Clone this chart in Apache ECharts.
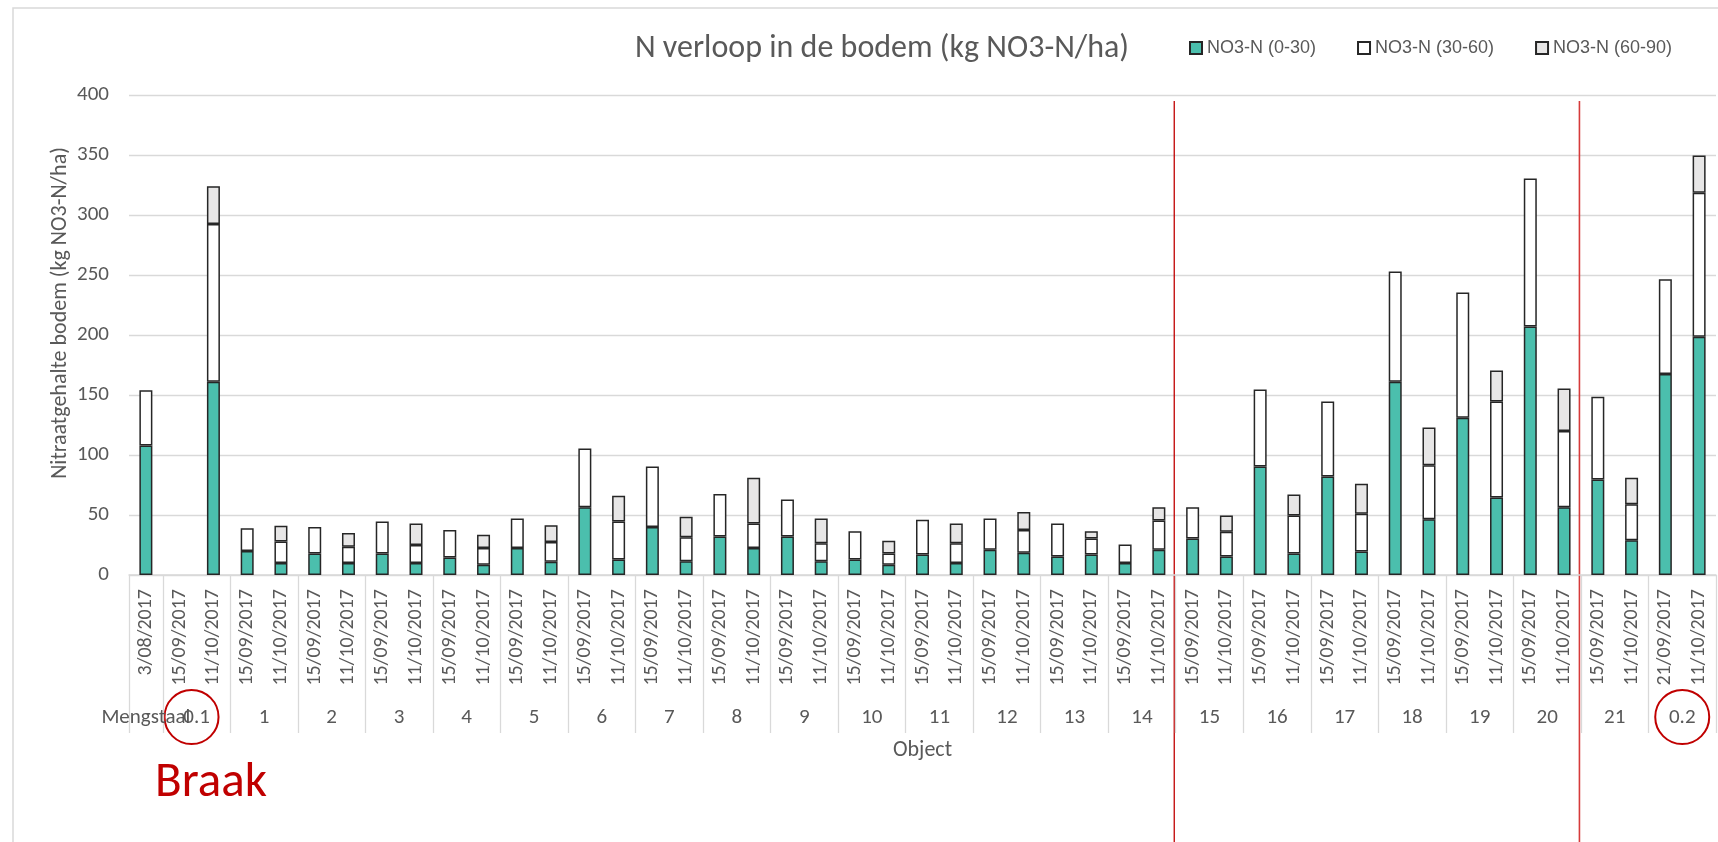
<!DOCTYPE html>
<html>
<head>
<meta charset="utf-8">
<title>N verloop in de bodem</title>
<script src="https://cdn.jsdelivr.net/npm/echarts@6/dist/echarts.min.js"></script>
<style>
  html, body { margin: 0; padding: 0; background: #fff; }
  #chart { width: 1718px; height: 842px; }
</style>
</head>
<body>
<div id="chart"></div>
<script>
// bemonsteringsdata per object (kg NO3-N/ha per laag)
var dates = [
  '3/08/2017', '15/09/2017', '11/10/2017',
  '15/09/2017', '11/10/2017', '15/09/2017', '11/10/2017', '15/09/2017', '11/10/2017',
  '15/09/2017', '11/10/2017', '15/09/2017', '11/10/2017', '15/09/2017', '11/10/2017',
  '15/09/2017', '11/10/2017', '15/09/2017', '11/10/2017', '15/09/2017', '11/10/2017',
  '15/09/2017', '11/10/2017', '15/09/2017', '11/10/2017', '15/09/2017', '11/10/2017',
  '15/09/2017', '11/10/2017', '15/09/2017', '11/10/2017', '15/09/2017', '11/10/2017',
  '15/09/2017', '11/10/2017', '15/09/2017', '11/10/2017', '15/09/2017', '11/10/2017',
  '15/09/2017', '11/10/2017', '15/09/2017', '11/10/2017', '15/09/2017', '11/10/2017',
  '21/09/2017', '11/10/2017'
];
var groups = ['Mengstaal', '0.1', '1', '2', '3', '4', '5', '6', '7', '8', '9', '10', '11',
  '12', '13', '14', '15', '16', '17', '18', '19', '20', '21', '0.2'];
var groupSizes = [1, 2, 2, 2, 2, 2, 2, 2, 2, 2, 2, 2, 2, 2, 2, 2, 2, 2, 2, 2, 2, 2, 2, 2];

var layer0_30 = [108, null, 161, 20, 10, 18, 10, 18, 10, 14.5, 8.5, 22.5, 11, 56.5, 13,
  40, 11.5, 32, 22.5, 32, 11.5, 13, 8.5, 17, 10, 21, 18.5, 15.5, 17, 10, 21,
  30.5, 15.5, 90.5, 18, 82, 19.5, 161, 46.5, 131, 64.5, 207, 56.5, 79.5, 29, 167.5, 198.5];
var layer30_60 = [46, null, 131.5, 19, 18, 22, 13.5, 26.5, 15, 23, 14, 24.5, 16.5, 49, 31.5,
  50.5, 20, 35.5, 20.5, 31, 15, 23.5, 9.5, 29, 16.5, 26, 19, 27.5, 13.5, 15.5, 24.5,
  26, 20.5, 64, 31.5, 62.5, 31.5, 92, 45, 104.5, 80, 123.5, 63.5, 69, 30, 79, 120];
var layer60_90 = [null, null, 31.5, null, 13, null, 11.5, null, 18, null, 11, null, 14, null, 21.5,
  null, 17, null, 38, null, 20.5, null, 10.5, null, 16.5, null, 15, null, 6, null, 11,
  null, 13.5, null, 17.5, null, 25, null, 31.5, null, 26, null, 35.5, null, 22, null, 31];

var seriesNames = ['NO3-N (0-30)', 'NO3-N (30-60)', 'NO3-N (60-90)'];
var yTicks = { min: 0, max: 400, step: 50 };

// red separators sit between these category positions
var dividerAfter = [30, 42];
var circledGroups = ['0.1', '0.2'];

var fontMain = "Carlito, 'Open Sans', 'Liberation Sans', sans-serif";
var grey = '#595959';

// group boundaries and centres on a 0..n value scale under the categories
var boundaries = [0];
var centres = [];
var centreLabel = {};
groupSizes.forEach(function (s, i) {
  var start = boundaries[boundaries.length - 1];
  boundaries.push(start + s);
  centres.push(start + s / 2);
  centreLabel[start + s / 2] = groups[i];
});

function barSeries(name, data, color) {
  return {
    name: name,
    type: 'bar',
    stack: 'bodem',
    xAxisIndex: 0,
    barWidth: 13,
    data: data,
    itemStyle: { color: color, borderColor: '#262626', borderWidth: 1.5 },
    emphasis: { disabled: true }
  };
}

// value axis under the dates that carries group ticks/labels
function groupAxis(labelValues, withTicks, extra) {
  var ax = {
    type: 'value',
    min: 0,
    max: dates.length,
    position: 'bottom',
    axisLine: { show: false },
    splitLine: { show: false },
    axisTick: {
      show: withTicks,
      customValues: boundaries,
      length: 158,
      lineStyle: { color: '#d9d9d9', width: 1.3 }
    },
    axisLabel: {
      customValues: labelValues,
      hideOverlap: false,
      margin: 132,
      fontSize: 21,
      color: grey,
      formatter: function (v) { return centreLabel[v] || ''; }
    }
  };
  return Object.assign(ax, extra || {});
}

var chart = echarts.init(document.getElementById('chart'));

var option = {
  animation: false,
  textStyle: { fontFamily: fontMain },
  title: {
    text: 'N verloop in de bodem (kg NO3-N/ha)',
    left: 877,
    textAlign: 'center',
    top: 28,
    textStyle: { fontSize: 32, fontWeight: 'normal', color: grey, fontFamily: fontMain }
  },
  legend: {
    left: 1184,
    top: 34,
    itemWidth: 12,
    itemHeight: 12,
    itemGap: 41,
    icon: 'rect',
    selectedMode: false,
    data: seriesNames,
    textStyle: { fontSize: 18, color: grey, fontFamily: "'Liberation Sans', Arial, sans-serif" }
  },
  grid: { left: 129, right: 2, top: 95, bottom: 267, containLabel: false },
  xAxis: [
    {
      type: 'category',
      data: dates,
      axisLine: { lineStyle: { color: '#d9d9d9', width: 1.5 } },
      axisTick: { show: false },
      axisLabel: { interval: 0, rotate: 90, margin: 14, fontSize: 20, color: grey }
    },
    // first group on its own axis so it is not hidden by the overlap with "0.1"
    groupAxis(centres.slice(0, 1), false),
    groupAxis(centres.slice(1), true, {
      name: 'Object',
      nameLocation: 'middle',
      nameGap: 164,
      nameTextStyle: { fontSize: 22, color: grey }
    })
  ],
  yAxis: {
    type: 'value',
    min: yTicks.min,
    max: yTicks.max,
    interval: yTicks.step,
    axisLine: { show: false },
    axisTick: { show: false },
    axisLabel: { fontSize: 21, color: grey, margin: 20 },
    splitLine: { lineStyle: { color: '#d9d9d9', width: 1.3 } }
  },
  series: [
    barSeries(seriesNames[0], layer0_30, '#4bbfad'),
    barSeries(seriesNames[1], layer30_60, '#ffffff'),
    barSeries(seriesNames[2], layer60_90, '#e7e6e6')
  ]
};

chart.setOption(option);

// annotations: frame, y title, red dividers, circles and "Braak"
function drawExtras() {
  var g = [];
  g.push({
    type: 'rect', silent: true, z: -1,
    shape: { x: 13, y: 8, width: 1730, height: 860 },
    style: { fill: null, stroke: '#d9d9d9', lineWidth: 1.5 }
  });
  g.push({
    type: 'text', silent: true,
    x: 60, y: 313, rotation: Math.PI / 2,
    style: {
      text: 'Nitraatgehalte bodem (kg NO3-N/ha)', fontSize: 22, fill: grey,
      fontFamily: fontMain, align: 'center', verticalAlign: 'middle'
    }
  });
  var topY = chart.convertToPixel({ yAxisIndex: 0 }, 395);
  dividerAfter.forEach(function (idx, i) {
    var x = chart.convertToPixel({ xAxisIndex: 2 }, idx + 1) - 1.5;
    g.push({
      type: 'line', silent: true,
      shape: { x1: x, y1: topY, x2: x, y2: 842 },
      style: { stroke: i === 0 ? '#c00000' : '#d63a3a', lineWidth: i === 0 ? 1.3 : 1.6 }
    });
  });
  circledGroups.forEach(function (name, i) {
    var c = centres[groups.indexOf(name)];
    var cx = chart.convertToPixel({ xAxisIndex: 2 }, c) + (i === 0 ? -5 : 0);
    g.push({
      type: 'ellipse', silent: true,
      shape: { cx: cx, cy: 717, rx: 27, ry: 27 },
      style: { fill: null, stroke: '#c00000', lineWidth: 2 }
    });
  });
  g.push({
    type: 'text', silent: true,
    x: 155, y: 784,
    style: {
      text: 'Braak', fontSize: 49, fill: '#c00000',
      fontFamily: fontMain, align: 'left', verticalAlign: 'middle'
    }
  });
  chart.setOption({ graphic: g });
}

drawExtras();
</script>
</body>
</html>
